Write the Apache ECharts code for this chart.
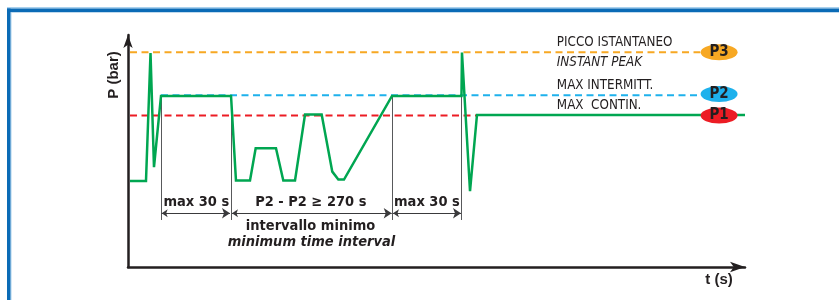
<!DOCTYPE html>
<html>
<head>
<meta charset="utf-8">
<script src="https://cdn.jsdelivr.net/npm/echarts@6/dist/echarts.min.js"></script>
<style>
html,body{margin:0;padding:0;background:#fff;}
#c{width:839px;height:300px;}
</style>
</head>
<body>
<div id="c"></div>
<script>
// ---- data (schematic units: time 0..101, pressure 0..10.27) ----
var pressureX = [0.33, 2.95, 3.69, 4.26, 5.41, 16.89, 17.70, 20.00, 20.93, 24.26, 25.46, 27.38, 29.02, 31.75, 33.49, 34.48, 35.41, 43.28, 54.67, 54.75, 56.07, 57.21, 101.15];
var pressureY = [3.81, 3.81, 9.47, 4.42, 7.57, 7.57, 3.83, 3.83, 5.25, 5.25, 3.83, 3.83, 6.75, 6.75, 4.22, 3.87, 3.87, 7.57, 7.57, 9.49, 3.36, 6.73, 6.73];

var levelNames = ['P3', 'P2', 'P1'];
var levelValues = [9.5, 7.6, 6.7];
var levelStart = [0.33, 5.41, 0.33];
var levelEnd = [93.8, 93.8, 57.2];
var levelColors = ['#f7a823', '#1eb1ec', '#ec1c24'];
var badgeX = 96.9;
var badgeY = [9.5, 7.65, 6.7];

var levelLabels = ['PICCO ISTANTANEO', 'INSTANT PEAK', 'MAX INTERMITT.', 'MAX  CONTIN.'];
var levelLabelItalic = [false, true, false, false];
var levelLabelX = 70.3;
var levelLabelY = [9.91, 9.03, 8.05, 7.15];

var markerX = [5.41, 16.89, 43.28, 54.67];
var markerTop = 7.57;
var markerBottom = 2.08;
var spanStart = [5.52, 17.05, 43.44];
var spanEnd = [16.72, 43.23, 54.59];
var spanY = 2.38;
var spanLabels = ['max 30 s', 'P2 - P2 \u2265 270 s', 'max 30 s'];
var spanLabelX = [11.2, 29.97, 49.0];
var spanLabelY = 2.88;
var noteLabels = ['intervallo minimo', 'minimum time interval'];
var noteItalic = [false, true];
var noteX = [29.92, 30.08];
var noteY = [1.81, 1.08];

var xMax = 101.15;
var yMax = 10.265;
var xName = 't (s)';
var yName = 'P (bar)';

var NARROW = "'Liberation Sans Narrow', 'DejaVu Sans Condensed', 'Roboto Condensed', sans-serif";
var INK = '#231f20';

var chart = echarts.init(document.getElementById('c'), null, {renderer: 'canvas'});

var series = [];

// level dashed lines
levelNames.forEach(function (n, i) {
  series.push({
    type: 'line', name: n, silent: true, symbol: 'none', z: 2,
    data: [[levelStart[i], levelValues[i]], [levelEnd[i], levelValues[i]]],
    lineStyle: {color: levelColors[i], width: 2, type: [7, 4.5]}
  });
});

// marker vertical lines
series.push({
  type: 'lines', coordinateSystem: 'cartesian2d', silent: true, z: 1,
  data: markerX.map(function (x) { return {coords: [[x, markerTop], [x, markerBottom]]}; }),
  lineStyle: {color: '#58595b', width: 1, opacity: 1}
});

// span arrows
series.push({
  type: 'lines', coordinateSystem: 'cartesian2d', silent: true, z: 3,
  symbol: ['arrow', 'arrow'], symbolSize: [6, 8],
  data: spanStart.map(function (s, i) { return {coords: [[s, spanY], [spanEnd[i], spanY]]}; }),
  lineStyle: {color: '#3a3a3c', width: 1, opacity: 1}
});

// pressure curve
series.push({
  type: 'line', name: 'P', silent: true, symbol: 'none', clip: false, z: 5,
  data: pressureX.map(function (x, i) { return [x, pressureY[i]]; }),
  lineStyle: {color: '#00a651', width: 2.5, join: 'miter'}
});

// level badges
series.push({
  type: 'scatter', silent: true, z: 6, symbol: 'circle', symbolSize: [37, 16],
  itemStyle: {opacity: 1},
  data: levelNames.map(function (n, i) {
    return {name: n, value: [badgeX, badgeY[i]], itemStyle: {color: levelColors[i], opacity: 1}};
  }),
  label: {show: true, position: 'inside', formatter: '{b}', color: INK, opacity: 1,
    fontFamily: NARROW, fontWeight: 'bold', fontSize: 15}
});

// level labels
series.push({
  type: 'scatter', silent: true, z: 6, symbolSize: 0, itemStyle: {opacity: 1},
  data: levelLabels.map(function (t, i) {
    return {name: t, value: [levelLabelX, levelLabelY[i]],
      label: {fontStyle: levelLabelItalic[i] ? 'italic' : 'normal'}};
  }),
  label: {show: true, position: 'right', distance: 0, formatter: '{b}', color: INK, opacity: 1,
    fontFamily: NARROW, fontSize: 13.3, align: 'left', verticalAlign: 'middle'}
});

// span labels
series.push({
  type: 'scatter', silent: true, z: 6, symbolSize: 0, itemStyle: {opacity: 1},
  data: spanLabels.map(function (t, i) { return {name: t, value: [spanLabelX[i], spanLabelY]}; }),
  label: {show: true, position: 'inside', formatter: '{b}', color: INK, opacity: 1,
    fontFamily: NARROW, fontWeight: 'bold', fontSize: 14.5}
});

// notes
series.push({
  type: 'scatter', silent: true, z: 6, symbolSize: 0, itemStyle: {opacity: 1},
  data: noteLabels.map(function (t, i) {
    return {name: t, value: [noteX[i], noteY[i]], label: {fontStyle: noteItalic[i] ? 'italic' : 'normal'}};
  }),
  label: {show: true, position: 'inside', formatter: '{b}', color: INK, opacity: 1,
    fontFamily: NARROW, fontWeight: 'bold', fontSize: 14.5}
});

var option = {
  animation: false,
  backgroundColor: '#ffffff',
  grid: {left: 128, top: 35, right: 94, bottom: 33, containLabel: false},
  xAxis: {
    type: 'value', min: 0, max: xMax,
    axisLine: {show: true, onZero: false, symbol: ['none', 'arrow'], symbolSize: [8, 15],
      lineStyle: {color: INK, width: 2.5}},
    axisTick: {show: false}, axisLabel: {show: false}, splitLine: {show: false}
  },
  yAxis: {
    type: 'value', min: 0, max: yMax,
    axisLine: {show: true, onZero: false, symbol: ['none', 'arrow'], symbolSize: [7, 13],
      lineStyle: {color: INK, width: 2.5}},
    axisTick: {show: false}, axisLabel: {show: false}, splitLine: {show: false}
  },
  graphic: [
    {type: 'rect', shape: {x: 7, y: 7, width: 840, height: 1.6}, style: {fill: '#a9d1ee'}, silent: true},
    {type: 'rect', shape: {x: 7, y: 8.5, width: 840, height: 3.8}, style: {fill: '#0b6bb6'}, silent: true},
    {type: 'rect', shape: {x: 10.5, y: 12.3, width: 1, height: 300}, style: {fill: '#a9d1ee'}, silent: true},
    {type: 'rect', shape: {x: 7, y: 8.5, width: 3.5, height: 300}, style: {fill: '#0b6bb6'}, silent: true},
    {type: 'text', x: 114, y: 75, rotation: Math.PI / 2,
      style: {text: yName, fill: INK, font: "bold 15px 'Liberation Sans', Arial, sans-serif", align: 'center', verticalAlign: 'middle'}},
    {type: 'text', x: 719, y: 280,
      style: {text: xName, fill: INK, font: "bold 15px 'Liberation Sans', Arial, sans-serif", align: 'center', verticalAlign: 'middle'}}
  ],
  series: series
};
chart.setOption(option);
</script>
</body>
</html>
